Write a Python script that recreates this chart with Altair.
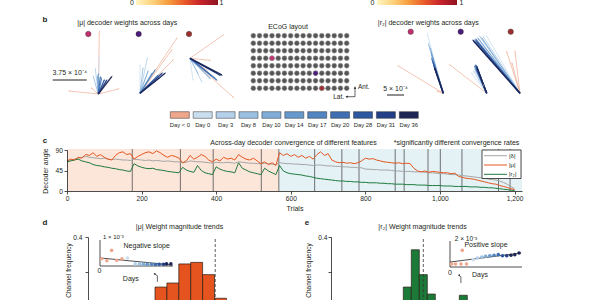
import altair as alt
import numpy as np
import pandas as pd

FONT = "Liberation Sans"
INK = "#231f20"

# ============================ DATA ============================
colorbar_ends = [0, 1]
colorbar_stops = ["#fff6c4", "#fdd27a", "#f79b3e", "#e8572a", "#c4212b", "#8f1522"]

day_labels = ["Day < 0", "Day 0", "Day 3", "Day 8", "Day 10", "Day 14",
              "Day 17", "Day 20", "Day 28", "Day 31", "Day 36"]
day_colors = ["#eea78c", "#c9dff0", "#b4d0ea", "#9cc0e1", "#80add7", "#6899cc",
              "#5184c0", "#3e6db2", "#2d579f", "#223f87", "#1e2656"]

channel_names = ["ch A", "ch B", "ch C"]
channel_colors = ["#c2306e", "#4b1b7b", "#9d2f2f"]
channel_row = [3, 5, 7]
channel_col = [3, 10, 11]
ecog_rows = list(range(8))
ecog_cols = list(range(16))

# decoder weight vectors, units of 1e-4: (day index, dx, dy)
mu_fan_a = [(0, 0.11, 6.87), (0, -3.20, 0.33), (0, 2.21, 0.55), (0, -0.73, 0.63),
            (1, 0.11, 4.08), (2, -0.33, 2.76), (3, -0.55, 1.91), (4, -0.11, 1.98), (5, 0.00, 2.21),
            (6, 0.37, 1.73), (7, 0.22, 1.87), (8, 0.66, 1.54), (9, 0.93, 1.54), (10, 1.48, 1.91)]
mu_fan_b = [(0, 4.05, 6.06), (0, 3.64, 3.67), (0, 3.50, 4.77),
            (1, 0.00, 3.12), (2, 0.80, 3.86), (3, 0.33, 2.76), (4, 0.88, 2.43), (5, 1.32, 2.21),
            (6, 1.65, 2.57), (7, 1.98, 1.98), (8, 2.21, 1.76), (9, 2.43, 2.21), (10, 2.76, 2.21)]
mu_fan_c = [(0, 3.67, 2.57), (0, 4.77, -4.30), (0, 2.21, -0.22), (0, 1.84, -1.29),
            (1, 0.33, -2.39), (2, 1.29, -2.58), (3, 0.88, -1.65), (4, 2.21, -2.21), (5, 2.43, -1.98),
            (6, 2.76, -2.21), (7, 2.94, -2.39), (8, 3.09, -1.65), (9, 3.31, -1.87), (10, 3.50, -1.84)]
r2_fan_a = [(0, -13.24, 8.03), (0, -1.76, 0.59),
            (1, -4.71, 17.44), (2, -4.41, 14.71), (3, -4.26, 14.12), (4, -3.82, 13.24), (5, -3.53, 11.76),
            (6, -3.41, 10.29), (7, -3.24, 9.71), (8, -2.94, 8.82), (9, -2.65, 7.65), (10, -2.50, 7.35)]
r2_fan_b = [(0, -10.79, 8.32), (0, -0.88, 2.35),
            (1, -4.41, 5.88), (2, -3.82, 6.47), (3, -3.53, 7.06), (4, -3.24, 7.35), (5, -3.15, 7.65),
            (6, -2.94, 7.82), (7, -3.53, 7.94), (8, -3.24, 8.24), (9, -2.94, 7.94), (10, -2.94, 7.65)]
r2_fan_c = [(0, -3.91, 12.24), (0, -1.47, 12.24), (0, -2.35, 8.82),
            (1, -9.79, 16.85), (2, -10.79, 16.65), (3, -11.76, 16.65), (4, -11.18, 16.18), (5, -12.35, 16.18),
            (6, -13.24, 15.68), (7, -12.94, 15.88), (8, -12.74, 15.18), (9, -13.53, 15.29), (10, -13.82, 15.59)]
mu_scalebar = 3.75
r2_scalebar = 5.0

# panel c
trials = list(range(0, 1201, 10))
angle_mu = [66, 70, 68, 74, 72, 80, 78, 84, 76, 80,
            74, 70, 68, 78, 84, 86, 80, 82, 70, 76,
            80, 84, 86, 82, 88, 84, 78, 74, 78, 76,
            72, 62, 66, 78, 70, 74, 80, 76, 68, 64,
            70, 66, 74, 70, 72, 68, 80, 74, 70, 68,
            72, 66, 60, 64, 58, 62, 56, 84, 78, 82,
            76, 80, 74, 78, 72, 76, 70, 80, 86, 78,
            82, 68, 64, 62, 63, 61, 62, 60, 62, 66,
            72, 70, 71, 68, 66, 64, 63, 62, 61, 62,
            60, 61, 60, 50, 44, 42, 44, 41, 43, 42,
            41, 40, 40, 38, 39, 32, 30, 28, 27, 26,
            24, 22, 20, 18, 16, 15, 12, 10, 8, 5,
            3]
angle_delta = [66, 68, 70, 72, 74, 76, 74, 73, 72, 71,
               72, 70, 69, 70, 69, 68, 68, 67, 70, 69,
               68, 67, 68, 66, 67, 66, 65, 66, 65, 64,
               64, 62, 63, 66, 65, 64, 64, 63, 62, 61,
               63, 62, 62, 63, 62, 61, 64, 63, 62, 61,
               61, 60, 60, 61, 60, 59, 58, 62, 61, 60,
               60, 59, 59, 58, 58, 57, 56, 57, 57, 56,
               55, 55, 54, 54, 53, 53, 52, 52, 51, 51,
               48, 48, 47, 47, 46, 46, 46, 45, 44, 44,
               43, 43, 43, 42, 42, 42, 41, 40, 40, 39,
               38, 38, 37, 36, 36, 35, 34, 33, 32, 31,
               30, 29, 28, 26, 25, 24, 22, 19, 15, 10,
               5]
angle_r2 = [64, 66, 68, 70, 66, 64, 62, 58, 56, 55,
            53, 52, 50, 49, 47, 46, 44, 43, 60, 55,
            52, 50, 49, 50, 47, 46, 45, 43, 42, 41,
            40, 52, 46, 43, 41, 56, 45, 40, 38, 36,
            53, 48, 45, 43, 42, 40, 62, 50, 46, 42,
            40, 38, 36, 50, 44, 40, 36, 56, 44, 40,
            38, 37, 36, 35, 33, 32, 30, 28, 27, 26,
            25, 24, 23, 22, 22, 21, 21, 20, 20, 19,
            19, 18, 18, 18, 17, 17, 16, 16, 15, 15,
            15, 14, 14, 14, 13, 13, 13, 12, 12, 12,
            12, 11, 11, 11, 10, 10, 10, 10, 9, 9,
            9, 8, 8, 7, 7, 6, 5, 4, 3, 2,
            1]
feature_names = ["|δ|", "|μ|", "|r₂|"]
feature_colors = ["#a5a5a5", "#e5561f", "#1f7a3d"]
session_breaks = [175, 304, 392, 521, 568, 664, 737, 783, 880, 904, 968, 1001, 1059, 1157, 1188]
first_day_trial = 568
trial_ticks = [0, 200, 400, 600, 800, 1000, 1200]
angle_ticks = [0, 45, 90]

# panels d, e
mu_hist_freq = [0.114, 0.137, 0.246, 0.255, 0.185, 0.05]
mu_zero_bin = 5.06
mu_arrow_bin = 0
r2_hist_freq = [0.114, 0.327, 0.185, 0.074, 0.03, 0.02, 0.03, 0.067]
r2_zero_bin = 2.5
r2_arrow_bin = 7
freq_ticks = [0.2, 0.4]

inset_fit_sessions = [0, 16.8]
mu_inset_session = [0.4, 1.6, 2.7, 3.9, 5.1, 6.4, 8.2, 9.2, 10.1, 11.0, 12.0, 12.9, 13.8, 14.8, 15.5, 16.5]
mu_inset_value = [0.28, 0.20, 0.60, 0.22, 0.28, 0.31, 0.08, 0.08, 0.07, 0.07, 0.07, 0.06, 0.07, 0.07, 0.08, 0.08]
mu_inset_day = [0, 0, 0, 0, 0, 1, 2, 3, 4, 5, 6, 7, 8, 9, 10, 10]
mu_inset_fit = [0.31, 0.04]
r2_inset_session = [0.4, 1.3, 2.9, 2.6, 3.9, 5.5, 6.5, 7.5, 8.4, 9.4, 10.4, 11.4, 12.4, 13.4, 14.4, 15.3, 16.3]
r2_inset_value = [0.23, 0.23, 1.28, 0.23, 0.23, 0.56, 0.69, 0.77, 0.82, 0.87, 0.90, 0.95, 0.87, 0.87, 0.90, 0.95, 1.08]
r2_inset_day = [0, 0, 0, 0, 0, 1, 2, 3, 4, 5, 6, 7, 8, 9, 10, 10, 10]
r2_inset_fit = [0.38, 1.08]

# ============================ LAYOUT ============================
def S(domain, rng):
    return alt.Scale(domain=domain, range=rng, nice=False, zero=False)

ONE = pd.DataFrame({"k": [0]})
layers = []

def text(s, x, y, size=7, align="center", weight="normal", angle=None, color=INK):
    kw = dict(text=s, font=FONT, fontSize=size, align=align, baseline="middle",
              fontWeight=weight, color=color)
    if angle is not None:
        kw["angle"] = angle
    layers.append(alt.Chart(ONE).mark_text(**kw).encode(x=alt.value(x), y=alt.value(y)))

AX = dict(labelFont=FONT, labelFontSize=6.7, labelColor=INK, titleFont=FONT,
          titleFontWeight="normal", titleColor=INK, domainColor=INK, tickColor=INK,
          domainWidth=0.8, tickWidth=0.8, tickSize=3, grid=False,
          labelFlush=False, labelOverlap=False, zindex=1)

# ---- top colour bars ----
grad = alt.Gradient(gradient="linear",
                    stops=[alt.GradientStop(color=c, offset=i / (len(colorbar_stops) - 1))
                           for i, c in enumerate(colorbar_stops)],
                    x1=0, x2=1, y1=0, y2=0)
cb_df = pd.DataFrame({"lo": [colorbar_ends[0]], "hi": [colorbar_ends[1]]})
for x0, x1 in [(136, 218), (377, 457)]:
    layers.append(alt.Chart(cb_df).mark_rect(fill=grad).encode(
        x=alt.X("lo:Q", scale=S(colorbar_ends, [x0, x1]), axis=None), x2="hi:Q",
        y=alt.value(-8), y2=alt.value(5)))
text("0", 132, 2.5); text("1", 221.5, 2.5); text("0", 372.5, 2.5); text("1", 461.5, 2.5)

# ---- panel b ----
text("b", 45, 20, size=8, weight="bold")
text("|μ| decoder weights across days", 127.3, 22.7)
text("|r₂| decoder weights across days", 428.3, 22.7)
text("ECoG layout", 288, 27.3)

ch_df = pd.DataFrame({"name": channel_names, "color": channel_colors,
                      "row": channel_row, "col": channel_col})
for x0, x1, yy in [(88.3, 189.0, 34.0), (410.7, 510.7, 31.7)]:
    layers.append(alt.Chart(ch_df).mark_circle(size=30, opacity=1, stroke="#333", strokeWidth=0.4).encode(
        x=alt.X("name:N", scale=alt.Scale(type="point", domain=channel_names, range=[x0, x1], padding=0), axis=None),
        y=alt.value(yy), color=alt.Color("color:N", scale=None)))

def fan(arrows, origin, k, span=30):
    ox, oy = origin
    xs = S([-span, span], [ox - span * k, ox + span * k])
    ys = S([-span, span], [oy + span * k, oy - span * k])
    df = pd.DataFrame(arrows, columns=["day", "dx", "dy"]).sort_values("day", kind="stable")
    df["color"] = [day_colors[d] for d in df.day]
    df["x0"] = 0.0
    df["y0"] = 0.0
    df["ang"] = np.degrees(np.arctan2(df.dx, df.dy)) % 360
    df["w"] = [0.7 if d == 0 else 0.75 + 0.07 * d for d in df.day]
    layers.append(alt.Chart(df).mark_rule(opacity=0.95).encode(
        x=alt.X("x0:Q", scale=xs, axis=None), x2="dx:Q",
        y=alt.Y("y0:Q", scale=ys, axis=None), y2="dy:Q",
        color=alt.Color("color:N", scale=None),
        strokeWidth=alt.StrokeWidth("w:Q", scale=None)))
    layers.append(alt.Chart(df).mark_point(shape="wedge", filled=True, size=10, opacity=1).encode(
        x=alt.X("dx:Q", scale=xs, axis=None), y=alt.Y("dy:Q", scale=ys, axis=None),
        angle=alt.Angle("ang:Q", scale=None), color=alt.Color("color:N", scale=None)))

MU_K, R2_K = 9.07, 3.4
fan(mu_fan_a, (98.3, 94.0), MU_K)
fan(mu_fan_b, (140.0, 93.3), MU_K)
fan(mu_fan_c, (190.0, 58.3), MU_K)
fan(r2_fan_a, (443.3, 93.3), R2_K)
fan(r2_fan_b, (486.7, 93.3), R2_K)
fan(r2_fan_c, (520.0, 93.3), R2_K)

# scale bars
for val, x0, k, yy, lab, ty in [(mu_scalebar, 52.7, MU_K, 80, "3.75 × 10⁻⁴", 73),
                                (r2_scalebar, 387.0, R2_K, 95, "5 × 10⁻⁴", 89)]:
    sb = pd.DataFrame({"a": [0.0], "b": [val]})
    layers.append(alt.Chart(sb).mark_rule(color=INK, strokeWidth=1).encode(
        x=alt.X("a:Q", scale=S([0, 10], [x0, x0 + 10 * k]), axis=None), x2="b:Q", y=alt.value(yy)))
    text(lab, x0 + val * k / 2, ty)

# ECoG grid
grid_df = pd.DataFrame([(r, c) for r in ecog_rows for c in ecog_cols], columns=["row", "col"])
gx = S([0, 15], [253.3, 346.7])
gy = S([0, 7], [35.7, 88.3])
layers.append(alt.Chart(grid_df).mark_circle(size=24, opacity=1, color="#565656", stroke="#9a9a9a", strokeWidth=0.5).encode(
    x=alt.X("col:Q", scale=gx, axis=None), y=alt.Y("row:Q", scale=gy, axis=None)))
layers.append(alt.Chart(ch_df).mark_circle(size=24, opacity=1, stroke="#9a9a9a", strokeWidth=0.5).encode(
    x=alt.X("col:Q", scale=gx, axis=None), y=alt.Y("row:Q", scale=gy, axis=None),
    color=alt.Color("color:N", scale=None)))
# compass
layers.append(alt.Chart(ONE).mark_rule(color=INK, strokeWidth=0.7).encode(
    x=alt.value(355), y=alt.value(96.7), y2=alt.value(88)))
layers.append(alt.Chart(ONE).mark_rule(color=INK, strokeWidth=0.7).encode(
    x=alt.value(355), x2=alt.value(347), y=alt.value(96.7)))
layers.append(alt.Chart(ONE).mark_point(shape="triangle-up", filled=True, size=7, color=INK, opacity=1).encode(
    x=alt.value(355), y=alt.value(87.5)))
layers.append(alt.Chart(ONE).mark_point(shape="triangle-left", filled=True, size=7, color=INK, opacity=1).encode(
    x=alt.value(346.5), y=alt.value(96.7)))
text("Ant.", 358, 86.5, size=6.5, align="left")
text("Lat.", 344, 97, size=6.5, align="right")

# day legend
dl = pd.DataFrame({"day": day_labels, "color": day_colors, "i": list(range(len(day_labels)))})
dl["i2"] = dl.i + 0.83
dl["ic"] = dl.i + 0.415
lx = S([0, 11], [170.3, 170.3 + 11 * 22.9])
layers.append(alt.Chart(dl).mark_rect(stroke="#333", strokeWidth=0.5).encode(
    x=alt.X("i:Q", scale=lx, axis=None), x2="i2:Q", y=alt.value(111.7), y2=alt.value(118.3),
    color=alt.Color("color:N", scale=None)))
layers.append(alt.Chart(dl).mark_text(font=FONT, fontSize=5.8, color=INK, baseline="middle").encode(
    x=alt.X("ic:Q", scale=lx, axis=None), y=alt.value(124.5), text="day:N"))

# ---- panel c ----
text("c", 45, 141, size=8, weight="bold")
text("Across-day decoder convergence of different features", 293.5, 143)
text("*significantly different convergence rates", 456.5, 143)
xs_c = S([0, 1220], [67, 522])
ys_c = S([0, 90], [191, 150])
bg = pd.DataFrame({"a": [0, first_day_trial], "b": [first_day_trial, 1220], "lo": [0, 0],
                   "hi": [92, 92], "fill": ["#fce6da", "#e4f2f6"]})
layers.append(alt.Chart(bg).mark_rect().encode(
    x=alt.X("a:Q", scale=xs_c, axis=alt.Axis(orient="bottom", offset=191 - 300, values=trial_ticks,
                                             format=",d", title="Trials", titlePadding=2.5,
                                             titleFontSize=7, labelPadding=1.5, **AX)),
    x2="b:Q",
    y=alt.Y("lo:Q", scale=ys_c, axis=alt.Axis(orient="left", offset=-67, values=angle_ticks,
                                              title="Decoder angle", titlePadding=6.5,
                                              titleFontSize=7, labelPadding=1.5, **AX)),
    y2="hi:Q", color=alt.Color("fill:N", scale=None)))
sb_df = pd.DataFrame({"t": session_breaks, "lo": 0, "hi": 92})
layers.append(alt.Chart(sb_df).mark_rule(color="#3a3a3a", strokeWidth=0.7).encode(
    x=alt.X("t:Q", scale=xs_c, axis=None), y=alt.Y("lo:Q", scale=ys_c, axis=None), y2="hi:Q"))
for vals, col in [(angle_delta, feature_colors[0]), (angle_r2, feature_colors[2]), (angle_mu, feature_colors[1])]:
    ldf = pd.DataFrame({"trial": trials, "angle": vals})
    layers.append(alt.Chart(ldf).mark_line(color=col, strokeWidth=1).encode(
        x=alt.X("trial:Q", scale=xs_c, axis=None), y=alt.Y("angle:Q", scale=ys_c, axis=None)))
# legend box
layers.append(alt.Chart(ONE).mark_rect(fill="white", stroke=INK, strokeWidth=0.8).encode(
    x=alt.value(482), x2=alt.value(521), y=alt.value(150), y2=alt.value(178.5)))
fl = pd.DataFrame({"feat": feature_names, "color": feature_colors})
fy = alt.Scale(type="point", domain=feature_names, range=[155.7, 174.3], padding=0)
layers.append(alt.Chart(fl).mark_rule(strokeWidth=1).encode(
    x=alt.value(484), x2=alt.value(507), y=alt.Y("feat:N", scale=fy, axis=None),
    color=alt.Color("color:N", scale=None)))
layers.append(alt.Chart(fl).mark_text(font=FONT, fontSize=6, color=INK, align="left", baseline="middle").encode(
    x=alt.value(509), y=alt.Y("feat:N", scale=fy, axis=None), text="feat:N"))

# ---- panels d, e ----
ys_h = S([0, 0.4], [307, 237])
def hist(freqs, x0, x1, fill, zero_bin, arrow_bin, arrow_gap, axis_x, lab_pad, tit_pad):
    n = len(freqs)
    xs = S([0, n], [x0, x1])
    hd = pd.DataFrame({"b0": list(range(n)), "f": freqs})
    hd["b1"] = hd.b0 + 1
    hd["z"] = 0.0
    layers.append(alt.Chart(hd).mark_rect(fill=fill, stroke="#2a1d16", strokeWidth=0.7).encode(
        x=alt.X("b0:Q", scale=xs, axis=None), x2="b1:Q",
        y=alt.Y("z:Q", scale=ys_h, axis=alt.Axis(orient="left", offset=-axis_x, values=freq_ticks,
                                                 labelExpr="datum.value == 0.4 ? '0.4' : ''",
                                                 title="Channel frequency", titlePadding=tit_pad,
                                                 titleFontSize=6.5, titleY=270,
                                                 labelPadding=lab_pad, **AX)),
        y2="f:Q"))
    zd = pd.DataFrame({"x": [zero_bin], "lo": [0.0], "hi": [0.4]})
    layers.append(alt.Chart(zd).mark_rule(color="#333", strokeWidth=0.8, strokeDash=[3, 2]).encode(
        x=alt.X("x:Q", scale=xs, axis=None), y=alt.Y("lo:Q", scale=ys_h, axis=None), y2="hi:Q"))
    f = freqs[arrow_bin]
    ad = pd.DataFrame({"x": [arrow_bin + 0.2, arrow_bin + 0.2, arrow_bin - 0.05],
                       "y": [f + arrow_gap, f + arrow_gap + 0.035, f + arrow_gap + 0.045],
                       "o": [0, 1, 2]})
    layers.append(alt.Chart(ad).mark_line(color=INK, strokeWidth=0.7).encode(
        x=alt.X("x:Q", scale=xs, axis=None), y=alt.Y("y:Q", scale=ys_h, axis=None), order="o:Q"))
    layers.append(alt.Chart(ad.iloc[[2]]).mark_point(shape="triangle-left", filled=True, size=5, color=INK, opacity=1).encode(
        x=alt.X("x:Q", scale=xs, axis=None), y=alt.Y("y:Q", scale=ys_h, axis=None)))

def inset(sess, vals, days, fit, ymax, x0, x1, ybot, ytop):
    xs = S([0, 17], [x0, x1])
    ys = S([0, ymax], [ybot, ytop])
    fr = pd.DataFrame({"a": [0.0, 0.0], "b": [17.0, 0.0], "c": [0.0, 0.0], "d": [0.0, ymax]})
    layers.append(alt.Chart(fr).mark_rule(color=INK, strokeWidth=0.8).encode(
        x=alt.X("a:Q", scale=xs, axis=None), x2="b:Q", y=alt.Y("c:Q", scale=ys, axis=None), y2="d:Q"))
    fd = pd.DataFrame({"s": inset_fit_sessions, "v": fit})
    layers.append(alt.Chart(fd).mark_line(color=INK, strokeWidth=0.8).encode(
        x=alt.X("s:Q", scale=xs, axis=None), y=alt.Y("v:Q", scale=ys, axis=None)))
    pdf = pd.DataFrame({"s": sess, "v": vals, "color": [day_colors[d] for d in days]})
    layers.append(alt.Chart(pdf).mark_circle(size=13, opacity=1).encode(
        x=alt.X("s:Q", scale=xs, axis=None), y=alt.Y("v:Q", scale=ys, axis=None),
        color=alt.Color("color:N", scale=None)))

text("d", 45, 223, size=8, weight="bold")
text("|μ| Weight magnitude trends", 179.5, 227.3)
hist(mu_hist_freq, 155.0, 226.4, "#e5531f", mu_zero_bin, mu_arrow_bin, 0.03, 88, 3, 1.5)
inset(mu_inset_session, mu_inset_value, mu_inset_day, mu_inset_fit, 1.0, 100, 173, 266, 240)
text("1 × 10⁻³", 103, 237.3, size=6, align="left")
text("Negative slope", 146.7, 246.3)
text("0", 99.5, 271)
text("Days", 130.8, 278.7)

text("e", 307, 223, size=8, weight="bold")
text("|r₂| Weight magnitude trends", 422.5, 227.3)
hist(r2_hist_freq, 403.3, 467.3, "#1c7a38", r2_zero_bin, r2_arrow_bin, 0.07, 331, 1, 6)
inset(r2_inset_session, r2_inset_value, r2_inset_day, r2_inset_fit, 2.0, 450, 522, 267, 241)
text("2 × 10⁻³", 466, 238.7, size=6.5)
text("Positive slope", 486, 244.7)
text("0", 450, 273)
text("Days", 480, 275.3)

chart = (alt.layer(*layers)
         .properties(width=600, height=300, padding=0, autosize=alt.AutoSizeParams(type="none"))
         .resolve_scale(x="independent", y="independent")
         .configure_view(stroke=None))
chart.save("out.html", embed_options={"renderer": "svg", "actions": False})
